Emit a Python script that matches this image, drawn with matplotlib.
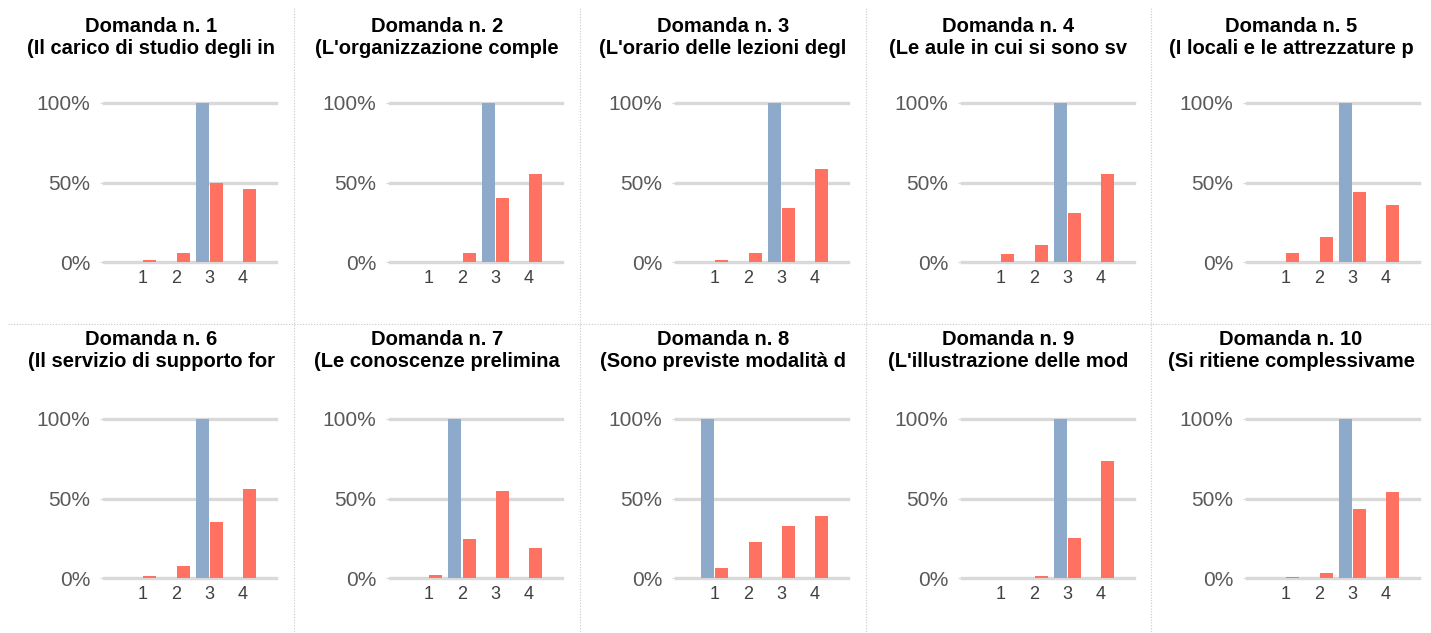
import matplotlib.pyplot as plt
from matplotlib.lines import Line2D

plt.rcParams["font.family"] = ["Liberation Sans", "DejaVu Sans"]

# --- data ---
titles = [f"Domanda n. {i}" for i in range(1, 11)]
subtitles = [
    "(Il carico di studio degli in",
    "(L'organizzazione comple",
    "(L'orario delle lezioni degl",
    "(Le aule in cui si sono sv",
    "(I locali e le attrezzature p",
    "(Il servizio di supporto for",
    "(Le conoscenze prelimina",
    "(Sono previste modalità d",
    "(L'illustrazione delle mod",
    "(Si ritiene complessivame",
]
categories = [1, 2, 3, 4]
blue_vals = [
    [0, 0, 1.00, 0],
    [0, 0, 1.00, 0],
    [0, 0, 1.00, 0],
    [0, 0, 1.00, 0],
    [0, 0, 1.00, 0],
    [0, 0, 1.00, 0],
    [0, 1.00, 0, 0],
    [1.00, 0, 0, 0],
    [0, 0, 1.00, 0],
    [0, 0, 1.00, 0],
]
red_vals = [
    [0.010, 0.054, 0.494, 0.456],
    [0.000, 0.054, 0.400, 0.556],
    [0.015, 0.059, 0.340, 0.586],
    [0.048, 0.105, 0.310, 0.554],
    [0.054, 0.160, 0.440, 0.360],
    [0.010, 0.077, 0.354, 0.560],
    [0.020, 0.247, 0.548, 0.190],
    [0.060, 0.224, 0.324, 0.393],
    [0.000, 0.010, 0.253, 0.736],
    [0.004, 0.029, 0.437, 0.538],
]

BLUE = "#8eaacb"
RED = "#ff7262"
GRID = "#d9d9d9"

W, H = 1431, 633
fig = plt.figure(figsize=(W / 100, H / 100), dpi=100)

panel_x = [8, 294, 580, 866, 1151]
row_off = [0, 316]
title_off = [0, 313]


def add_px_axes(left, top, width, height):
    return fig.add_axes([left / W, 1 - (top + height) / H, width / W, height / H])


for i in range(10):
    r, c = divmod(i, 5)
    px, oy = panel_x[c], row_off[r]
    ax = add_px_axes(px + 96, 103 + oy, 172, 159)

    for y in (0, 0.5, 1.0):
        ax.axhline(y, color=GRID, lw=2.4, zorder=0, clip_on=False)
    ax.bar([k - 0.42 for k in categories], blue_vals[i], width=0.39,
           align="edge", color=BLUE, zorder=2)
    ax.bar([k + 0.01 for k in categories], red_vals[i], width=0.39,
           align="edge", color=RED, zorder=2)

    ax.set_xlim(-0.17, 4.99)
    ax.set_ylim(0, 1)
    ax.set_xticks(categories)
    ax.set_xticklabels([str(k) for k in categories])
    ax.set_yticks([0, 0.5, 1.0])
    ax.set_yticklabels(["0%", "50%", "100%"])
    ax.tick_params(axis="y", length=3, color=GRID, pad=7,
                   labelsize=15, labelcolor="#595959")
    ax.tick_params(axis="x", length=0, pad=6, labelsize=13,
                   labelcolor="#404040")
    for s in ax.spines.values():
        s.set_visible(False)

    cx = (px + (panel_x[c + 1] if c < 4 else 1431)) / 2 if c > 0 else 151
    ty = title_off[r]
    fig.text(cx / W, 1 - (32 + ty) / H, titles[i], ha="center",
             va="baseline", fontsize=14.5, fontweight="bold")
    fig.text(cx / W, 1 - (54 + ty) / H, subtitles[i], ha="center",
             va="baseline", fontsize=14.5, fontweight="bold")

# dotted panel separators
sep = dict(color="#c8c8c8", lw=0.8, linestyle=(0, (1, 1.5)))
fig.add_artist(Line2D([8 / W, 1], [1 - 323.5 / H] * 2, **sep))
for x in panel_x[1:]:
    fig.add_artist(Line2D([x / W] * 2, [1 - 8 / H, 0], **sep))

fig.savefig("out.png", dpi=100)
